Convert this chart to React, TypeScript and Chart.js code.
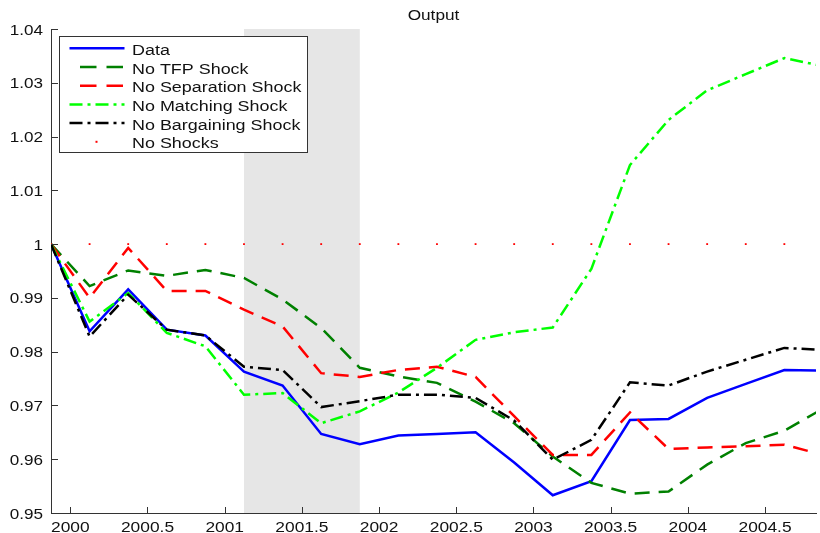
import React, { useEffect, useRef } from "react";
import { Chart, registerables } from "chart.js";

Chart.register(...registerables);

const QUARTERS = [
  1999.875, 2000.125, 2000.375, 2000.625, 2000.875, 2001.125, 2001.375, 2001.625,
  2001.875, 2002.125, 2002.375, 2002.625, 2002.875, 2003.125, 2003.375, 2003.625,
  2003.875, 2004.125, 2004.375, 2004.625, 2004.875,
];

const DATA = [1.0, 0.9838, 0.9916, 0.9841, 0.983, 0.9763, 0.9737, 0.9647, 0.9628, 0.9644, 0.9647, 0.965, 0.9594, 0.9533, 0.9559, 0.9673, 0.9675, 0.9714, 0.974, 0.9766, 0.9765];
const NO_TFP = [1.0, 0.9922, 0.9951, 0.9941, 0.9952, 0.9937, 0.9897, 0.9844, 0.977, 0.9754, 0.9742, 0.9707, 0.9667, 0.9605, 0.9556, 0.9536, 0.954, 0.959, 0.963, 0.9653, 0.9694];
const NO_SEP = [1.0, 0.99, 0.9993, 0.9913, 0.9913, 0.9878, 0.9847, 0.976, 0.9753, 0.9766, 0.9772, 0.9753, 0.968, 0.9608, 0.9608, 0.9687, 0.9619, 0.9622, 0.9624, 0.9627, 0.9608];
const NO_MATCH = [1.0, 0.9856, 0.9909, 0.9835, 0.981, 0.972, 0.9723, 0.9667, 0.9689, 0.9724, 0.977, 0.9822, 0.9836, 0.9845, 0.9954, 1.0147, 1.0231, 1.0286, 1.0316, 1.0346, 1.0331];
const NO_BARG = [1.0, 0.9828, 0.9906, 0.9841, 0.983, 0.9772, 0.9766, 0.9697, 0.9708, 0.972, 0.972, 0.9714, 0.9672, 0.9599, 0.9636, 0.9743, 0.9737, 0.9763, 0.9785, 0.9807, 0.9803];
const NO_SHOCKS = [1, 1, 1, 1, 1, 1, 1, 1, 1, 1, 1, 1, 1, 1, 1, 1, 1, 1, 1, 1, 1];

const SERIES_NAMES = ["Data", "No TFP Shock", "No Separation Shock", "No Matching Shock", "No Bargaining Shock", "No Shocks"];

const X_TICKS = [2000, 2000.5, 2001, 2001.5, 2002, 2002.5, 2003, 2003.5, 2004, 2004.5];
const X_TICK_LABELS = ["2000", "2000.5", "2001", "2001.5", "2002", "2002.5", "2003", "2003.5", "2004", "2004.5"];
const Y_TICKS = [0.95, 0.96, 0.97, 0.98, 0.99, 1.0, 1.01, 1.02, 1.03, 1.04];
const Y_TICK_LABELS = ["0.95", "0.96", "0.97", "0.98", "0.99", "1", "1.01", "1.02", "1.03", "1.04"];

const RECESSION = [2001.125, 2001.875];
const TITLE = "Output";

const FONT = '14px "Liberation Sans", Arial, sans-serif';
const AXIS_COLOR = "#333333";
const TEXT_COLOR = "#111111";

const STYLES = [
  { color: "#0000ff", dash: [] as number[], point: false },
  { color: "#008000", dash: [15, 9], point: false },
  { color: "#ff0000", dash: [15, 9], point: false },
  { color: "#00ff00", dash: [13, 5, 3, 5], point: false },
  { color: "#000000", dash: [13, 5, 3, 5], point: false },
  { color: "#ff0000", dash: [] as number[], point: true },
];

function stretchedText(ctx: CanvasRenderingContext2D, text: string, x: number, y: number, sx: number, align: CanvasTextAlign) {
  ctx.save();
  ctx.translate(x, y);
  ctx.scale(sx, 1);
  ctx.textAlign = align;
  ctx.textBaseline = "alphabetic";
  ctx.fillText(text, 0, 0);
  ctx.restore();
}

const bandPlugin = {
  id: "band",
  beforeDatasetsDraw(chart: any) {
    const { ctx, chartArea, scales } = chart;
    const x1 = scales.x.getPixelForValue(RECESSION[0]);
    const x2 = scales.x.getPixelForValue(RECESSION[1]);
    ctx.save();
    ctx.fillStyle = "#e6e6e6";
    ctx.fillRect(x1, chartArea.top, x2 - x1, chartArea.bottom - chartArea.top);
    ctx.restore();
  },
};

const decorPlugin = {
  id: "decor",
  afterDraw(chart: any) {
    const { ctx, chartArea, scales } = chart;
    ctx.save();
    // axis ticks (inward)
    ctx.strokeStyle = AXIS_COLOR;
    ctx.lineWidth = 1;
    ctx.setLineDash([]);
    Y_TICKS.forEach((v) => {
      const y = Math.round(scales.y.getPixelForValue(v)) + 0.5;
      ctx.beginPath();
      ctx.moveTo(chartArea.left, y);
      ctx.lineTo(chartArea.left + 7, y);
      ctx.stroke();
    });
    X_TICKS.forEach((v) => {
      const x = Math.round(scales.x.getPixelForValue(v)) + 0.5;
      ctx.beginPath();
      ctx.moveTo(x, chartArea.bottom);
      ctx.lineTo(x, chartArea.bottom - 6);
      ctx.stroke();
    });
    // tick labels
    ctx.font = FONT;
    ctx.fillStyle = TEXT_COLOR;
    Y_TICKS.forEach((v, i) => {
      const y = scales.y.getPixelForValue(v);
      stretchedText(ctx, Y_TICK_LABELS[i], chartArea.left - 8, y + 5.5, 1.22, "right");
    });
    X_TICKS.forEach((v, i) => {
      const x = scales.x.getPixelForValue(v);
      stretchedText(ctx, X_TICK_LABELS[i], x, chartArea.bottom + 18.5, 1.24, "center");
    });
    // title
    ctx.font = FONT;
    stretchedText(ctx, TITLE, (chartArea.left + chartArea.right) / 2, 19.5, 1.23, "center");

    // legend
    const bx = 59.5, by = 36.5, bw = 248, bh = 116;
    ctx.fillStyle = "#ffffff";
    ctx.fillRect(bx, by, bw, bh);
    ctx.strokeStyle = AXIS_COLOR;
    ctx.lineWidth = 1;
    ctx.strokeRect(bx, by, bw, bh);
    const rowY = [48.3, 67, 85.7, 104.4, 123.1, 141.8];
    SERIES_NAMES.forEach((name, i) => {
      const st = STYLES[i];
      const y = rowY[i];
      if (st.point) {
        ctx.fillStyle = st.color;
        ctx.fillRect(95.5, y - 1, 2, 2);
      } else {
        ctx.save();
        ctx.strokeStyle = st.color;
        ctx.lineWidth = 2.5;
        const isDash = st.dash.length === 2;
        ctx.setLineDash(isDash ? [16.5, 10] : st.dash);
        ctx.beginPath();
        ctx.moveTo(isDash ? 80 : 69.5, y);
        ctx.lineTo(isDash ? 123.3 : 124.5, y);
        ctx.stroke();
        ctx.restore();
      }
      ctx.fillStyle = TEXT_COLOR;
      ctx.font = FONT;
      stretchedText(ctx, name, 132, y + 6.5, 1.28, "left");
    });
    ctx.restore();
  },
};

export default function App() {
  const ref = useRef<HTMLCanvasElement | null>(null);
  useEffect(() => {
    document.body.style.margin = "0";
    const canvas = ref.current;
    if (!canvas) return;
    const seriesValues = [DATA, NO_TFP, NO_SEP, NO_MATCH, NO_BARG, NO_SHOCKS];
    const datasets = seriesValues.map((vals, i) => {
      const st = STYLES[i];
      return {
        label: SERIES_NAMES[i],
        data: vals.map((v, j) => ({ x: QUARTERS[j], y: v })),
        borderColor: st.color,
        backgroundColor: st.color,
        borderWidth: st.point ? 0 : 2.5,
        borderDash: st.dash,
        showLine: !st.point,
        pointRadius: st.point ? 1.3 : 0,
        pointStyle: st.point ? "rect" : "circle",
        pointBorderWidth: 0,
        tension: 0,
        fill: false,
        order: 5 - i,
      };
    });
    const chart = new Chart(canvas, {
      type: "line",
      data: { datasets },
      options: {
        animation: false,
        responsive: false,
        devicePixelRatio: 1,
        layout: { padding: { top: 29, left: 0, right: 0, bottom: 0 } },
        plugins: { legend: { display: false }, title: { display: false }, tooltip: { enabled: false } },
        scales: {
          x: {
            type: "linear",
            min: 1999.875,
            max: 2004.83,
            grid: { display: false },
            border: { display: true, color: AXIS_COLOR, width: 1 },
            ticks: { display: false, stepSize: 0.5 },
            afterFit: (s: any) => { s.height = 20; },
          },
          y: {
            type: "linear",
            min: 0.95,
            max: 1.04,
            grid: { display: false },
            border: { display: true, color: AXIS_COLOR, width: 1 },
            ticks: { display: false, stepSize: 0.01 },
            afterFit: (s: any) => { s.width = 51; },
          },
        },
      } as any,
      plugins: [bandPlugin, decorPlugin],
    });
    return () => chart.destroy();
  }, []);
  return <canvas ref={ref} width={820} height={533} style={{ display: "block" }} />;
}
